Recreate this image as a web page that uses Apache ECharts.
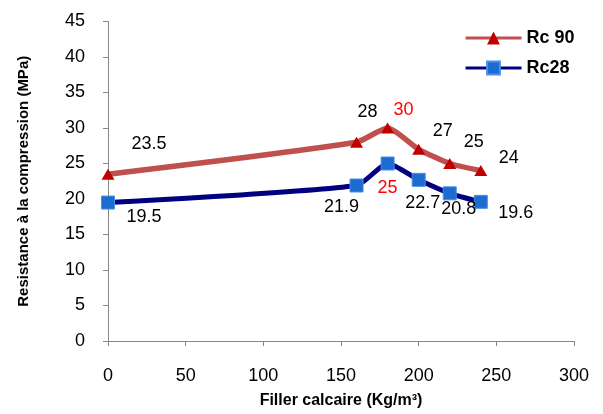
<!DOCTYPE html>
<html>
<head>
<meta charset="utf-8">
<style>
html,body{margin:0;padding:0;background:#fff;}
#chart{width:603px;height:414px;}
</style>
<script src="https://cdn.jsdelivr.net/npm/echarts@6/dist/echarts.min.js"></script>
</head>
<body>
<div id="chart"></div>
<script>
var fillerX = [0, 160, 180, 200, 220, 240];
var rc90 = [23.5, 28, 30, 27, 25, 24];
var rc28 = [19.5, 21.9, 25, 22.7, 20.8, 19.6];
var rc90Labels = ['23.5', '28', '30', '27', '25', '24'];
var rc28Labels = ['19.5', '21.9', '25', '22.7', '20.8', '19.6'];
var xTicks = [0, 50, 100, 150, 200, 250, 300];
var yTicks = [0, 5, 10, 15, 20, 25, 30, 35, 40, 45];

// label placement (styling, not data)
var off90 = [[41,-30],[11,-30],[16,-18],[24,-18],[24,-21],[28,-13]];
var off28 = [[36,14],[-15,22],[0,25],[4,23],[9,16],[35,11]];
var col90 = ['#000','#000','#FF0000','#000','#000','#000'];
var col28 = ['#000','#000','#FF0000','#000','#000','#000'];

var FONT = "'Liberation Sans', Arial, sans-serif";

function build(xs, ys, labels, offs, cols) {
  return xs.map(function (x, i) {
    return {
      value: [x, ys[i]],
      label: {
        show: true,
        position: 'inside',
        offset: offs[i],
        formatter: labels[i],
        color: cols[i],
        fontSize: 18,
        fontFamily: FONT
      }
    };
  });
}

var chart = echarts.init(document.getElementById('chart'), null, {renderer: 'canvas'});
chart.setOption({
  animation: false,
  backgroundColor: '#fff',
  grid: {left: 108, top: 21.5, right: 29, bottom: 70.7, containLabel: false},
  legend: {
    orient: 'vertical',
    left: 459,
    top: 24,
    itemWidth: 56,
    itemHeight: 16,
    itemGap: 12,
    lineStyle: {width: 3},
    textStyle: {fontSize: 18, fontWeight: 'bold', fontFamily: FONT, color: '#000'},
    data: ['Rc 90', 'Rc28']
  },
  xAxis: {
    type: 'value',
    min: xTicks[0],
    max: xTicks[xTicks.length - 1],
    interval: 50,
    name: 'Filler calcaire (Kg/m³)',
    nameLocation: 'middle',
    nameGap: 52,
    nameTextStyle: {fontSize: 16, fontWeight: 'bold', fontFamily: FONT, color: '#000'},
    axisLine: {show: true, onZero: false, lineStyle: {color: '#868686', width: 1}},
    axisTick: {show: true, length: 5, lineStyle: {color: '#868686'}},
    axisLabel: {fontSize: 18, fontFamily: FONT, color: '#000', margin: 26},
    splitLine: {show: false}
  },
  yAxis: {
    type: 'value',
    min: yTicks[0],
    max: yTicks[yTicks.length - 1],
    interval: 5,
    name: 'Resistance à la compression (MPa)',
    nameLocation: 'middle',
    nameGap: 77,
    nameTextStyle: {fontSize: 15, fontWeight: 'bold', fontFamily: FONT, color: '#000'},
    axisLine: {show: true, lineStyle: {color: '#868686', width: 1}},
    axisTick: {show: true, length: 5, lineStyle: {color: '#868686'}},
    axisLabel: {fontSize: 18, fontFamily: FONT, color: '#000', margin: 23},
    splitLine: {show: false}
  },
  series: [
    {
      name: 'Rc 90',
      type: 'line',
      smooth: 0.2,
      symbol: 'triangle',
      symbolSize: [13, 11],
      lineStyle: {color: '#C0504D', width: 5.5},
      itemStyle: {color: '#C00000', borderColor: '#C00000', borderWidth: 0},
      data: build(fillerX, rc90, rc90Labels, off90, col90),
      z: 2
    },
    {
      name: 'Rc28',
      type: 'line',
      smooth: 0.2,
      symbol: 'rect',
      symbolSize: 13,
      lineStyle: {color: '#000080', width: 5},
      itemStyle: {color: '#1C6BD1', borderColor: '#4A90E2', borderWidth: 1},
      data: build(fillerX, rc28, rc28Labels, off28, col28),
      z: 3
    }
  ]
});
</script>
</body>
</html>
